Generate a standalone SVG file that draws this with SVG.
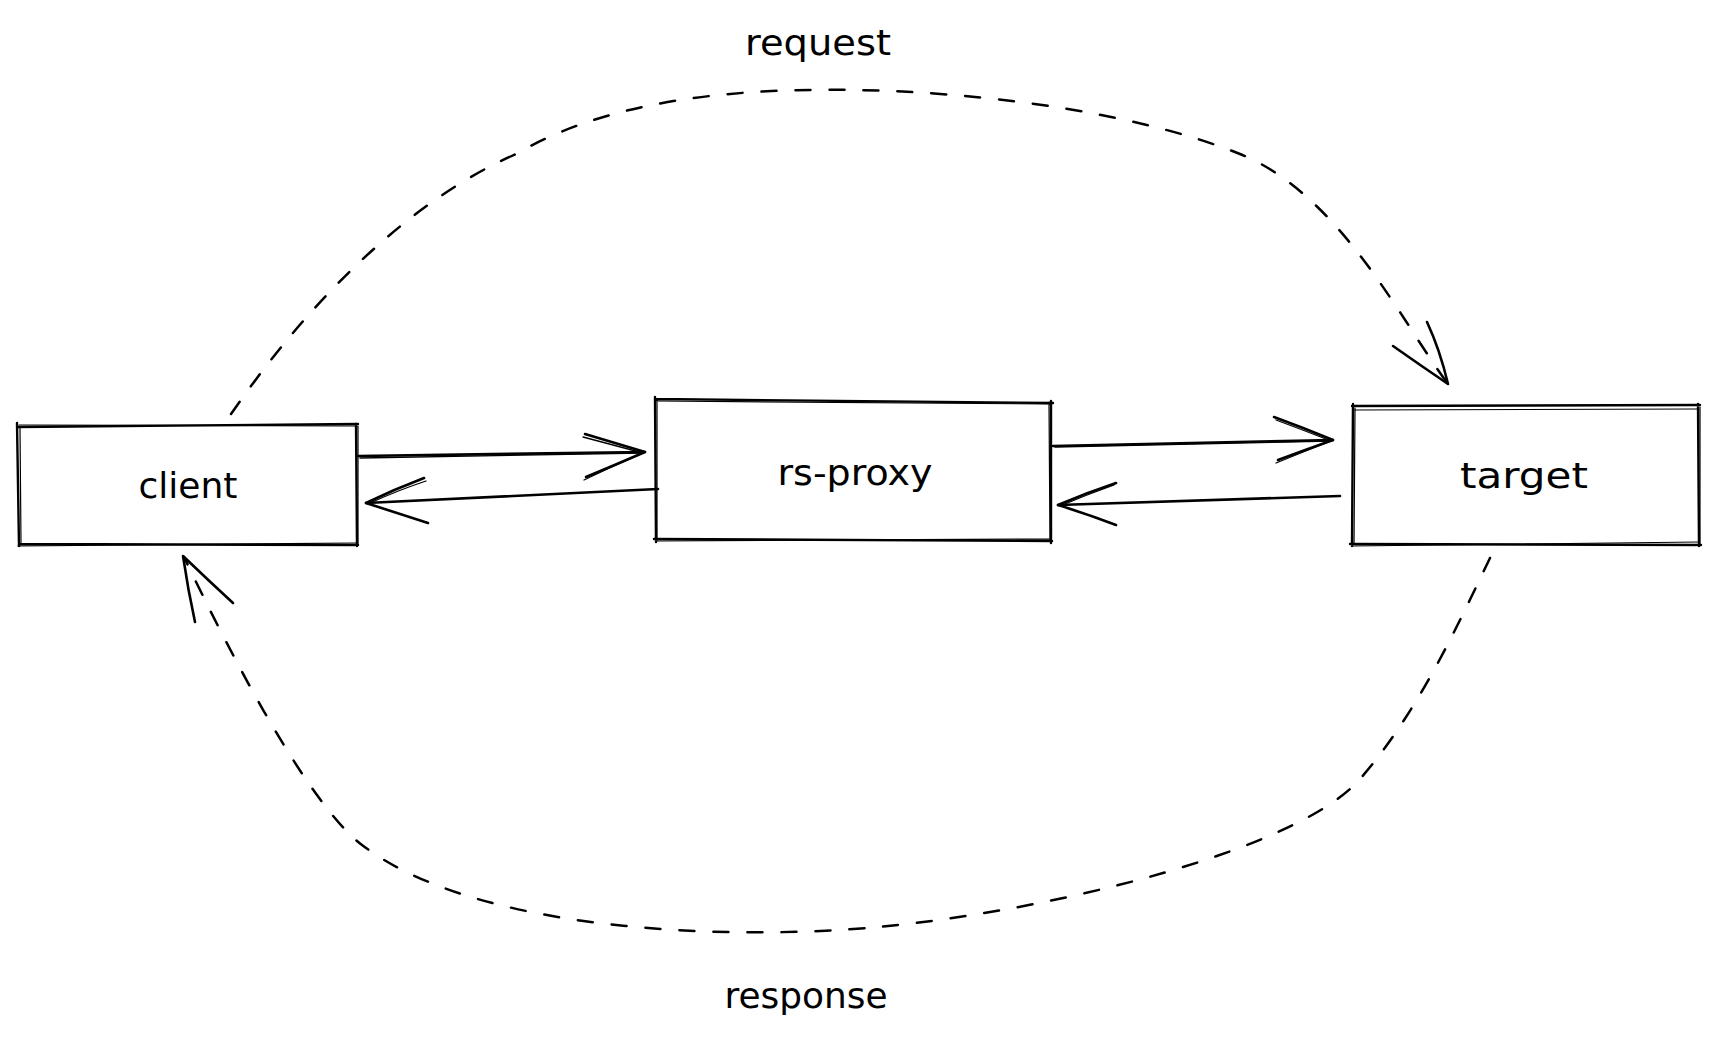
<svg xmlns="http://www.w3.org/2000/svg" width="1720" height="1038" viewBox="0 0 1720 1038">
  <style>
    .bg { fill: #ffffff; }
    .edge { fill: none; stroke: #000; stroke-width: 2.4; stroke-linecap: round; stroke-linejoin: round; }
    .edge2 { fill: none; stroke: #000; stroke-width: 1.2; stroke-linecap: round; }
    .line { fill: none; stroke: #000; stroke-width: 2.6; stroke-linecap: round; stroke-linejoin: round; }
    .line2 { fill: none; stroke: #000; stroke-width: 1.3; stroke-linecap: round; }
    .dash { fill: none; stroke: #000; stroke-width: 2.5; stroke-linecap: round; stroke-dasharray: 15 19; }
    .label { font-family: "DejaVu Sans", "Liberation Sans", sans-serif; font-size: 36px; fill: #000; text-anchor: middle; }
  </style>
  <rect class="bg" x="0" y="0" width="1720" height="1038"/>

  <g id="client">
    <path class="edge" d="M17,423 L19,546 M18,427 L358,424 M356,424 L357,546 M19,544 L358,545"/>
    <path class="edge2" d="M20,428 L21,544 M19,425 L357,426 M358,426 L358,545 M18,546 L356,543"/>
    <text class="label" x="188" y="498" textLength="99" lengthAdjust="spacingAndGlyphs">client</text>
  </g>

  <g id="rs-proxy">
    <path class="edge" d="M655,397 L656,542 M655,399 L1053,403 M1051,401 L1051,543 M654,539 L1052,541"/>
    <path class="edge2" d="M657,400 L657,540 M656,401 L1050,404 M1049,402 L1050,541 M656,541 L1050,539"/>
    <text class="label" x="855" y="485" textLength="155" lengthAdjust="spacingAndGlyphs">rs-proxy</text>
  </g>

  <g id="target">
    <path class="edge" d="M1353,404 L1352,546 M1352,406 L1700,405 M1698,404 L1699,546 M1350,544 L1701,545"/>
    <path class="edge2" d="M1355,408 L1354,544 M1354,410 L1698,409 M1700,407 L1700,544 M1352,546 L1699,542"/>
    <text class="label" x="1524" y="488" textLength="128" lengthAdjust="spacingAndGlyphs">target</text>
  </g>

  <g id="connectors">
    <!-- client -> rs-proxy -->
    <path class="line" d="M358,456 L645,452"/>
    <path class="line2" d="M360,458 L643,453"/>
    <path class="line" d="M585,434 Q615,443 645,452 Q615,465 586,477"/>
    <path class="line2" d="M583,437 Q613,445 643,453 Q613,466 584,480"/>

    <!-- rs-proxy -> client -->
    <path class="line" d="M658,489 L366,503"/>
    <path class="line" d="M424,478 Q395,489 366,503 Q397,513 428,523"/>
    <path class="line2" d="M426,481 Q396,491 368,504"/>

    <!-- rs-proxy -> target -->
    <path class="line" d="M1053,446 L1333,440"/>
    <path class="line2" d="M1055,447 L1331,441"/>
    <path class="line" d="M1274,417 Q1304,428 1333,440 Q1305,450 1278,460"/>
    <path class="line2" d="M1276,420 Q1303,430 1331,441 Q1303,452 1276,463"/>

    <!-- target -> rs-proxy -->
    <path class="line" d="M1340,496 L1058,505"/>
    <path class="line" d="M1116,483 Q1086,493 1058,505 Q1087,514 1116,525"/>
    <path class="line2" d="M1114,485 Q1086,495 1060,506"/>

    <!-- request: client -> target (dashed) -->
    <path class="dash" d="M231,414 C310,300 410,200 516,154 C612,98 740,88 856,90 C972,92 1130,110 1240,154 C1340,194 1403,324 1448,384"/>
    <path class="line" d="M1427,322 Q1440,350 1448,384 Q1420,365 1393,346"/>

    <!-- response: target -> client (dashed) -->
    <path class="dash" d="M1490,558 C1460,620 1420,710 1360,779 C1300,848 1060,910 878,927 C740,940 480,935 362,845 C300,798 209,609 184,557"/>
    <path class="line" d="M195,622 Q188,590 183,556 Q208,580 233,603"/>
  </g>

  <text class="label" x="818" y="55" textLength="146" lengthAdjust="spacingAndGlyphs">request</text>
  <text class="label" x="806" y="1008" textLength="163" lengthAdjust="spacingAndGlyphs">response</text>
</svg>
